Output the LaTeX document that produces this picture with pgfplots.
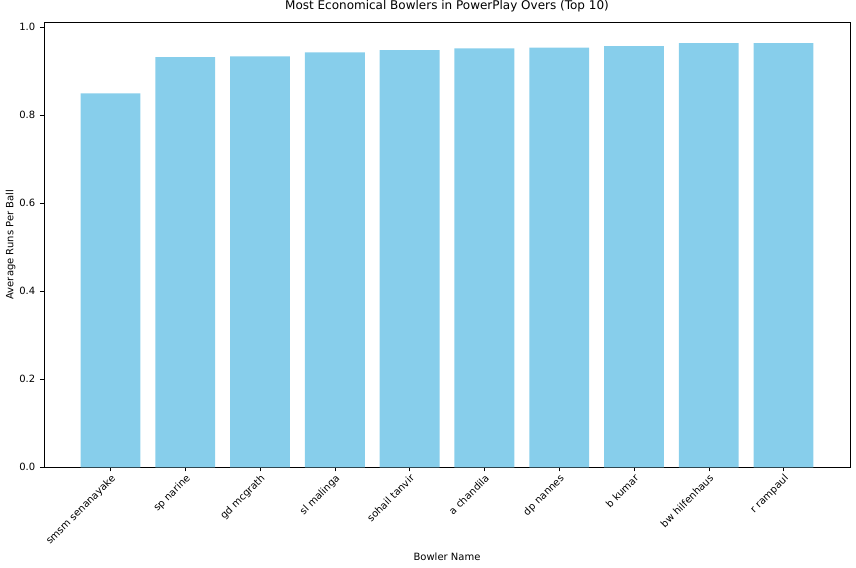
\documentclass[border=0pt]{standalone}
\usepackage{pgfplots}
\pgfplotsset{compat=1.18}
\usepackage{fontspec}
\setmainfont{DejaVu Sans}
\definecolor{sky}{HTML}{87CEEB}
\begin{document}
\begin{tikzpicture}
\begin{axis}[
  scale only axis, width=604.5pt, height=334pt,
  ymin=0, ymax=1.012, xmin=-0.89, xmax=9.89,
  ytick={0,0.2,0.4,0.6,0.8,1.0},
  yticklabel style={font=\fontsize{7.5}{9}\selectfont},
  y tick label style={/pgf/number format/fixed,/pgf/number format/fixed zerofill,/pgf/number format/precision=1},
  /pgf/number format/assume math mode=true,
  xtick={0,...,9},
  xticklabels={smsm senanayake,sp narine,gd mcgrath,sl malinga,sohail tanvir,a chandila,dp nannes,b kumar,bw hilfenhaus,r rampaul},
  xticklabel style={rotate=45,anchor=north east,inner sep=1pt,font=\fontsize{7.5}{9}\selectfont},
  tick align=outside, tick style={black}, major tick length=3pt,
  xtick pos=bottom, ytick pos=left,
  xlabel={Bowler Name}, ylabel={Average Runs Per Ball},
  label style={font=\fontsize{7.5}{9}\selectfont},
  title={Most Economical Bowlers in PowerPlay Overs (Top 10)},
  title style={font=\fontsize{9}{11}\selectfont,yshift=-2pt},
  ylabel style={yshift=-4pt},
]
\addplot[ybar, bar width=0.8, fill=sky, draw=none] coordinates {
(0,0.850) (1,0.932) (2,0.934) (3,0.943) (4,0.948) (5,0.952) (6,0.954) (7,0.957) (8,0.964) (9,0.964)};
\coordinate (sw) at (rel axis cs:0,0);
\coordinate (ne) at (rel axis cs:1,1);
\end{axis}
\pgfresetboundingbox
\path ([shift={(-33pt,-75pt)}]sw) rectangle ([shift={(4.5pt,16.5pt)}]ne);
\end{tikzpicture}
\end{document}
